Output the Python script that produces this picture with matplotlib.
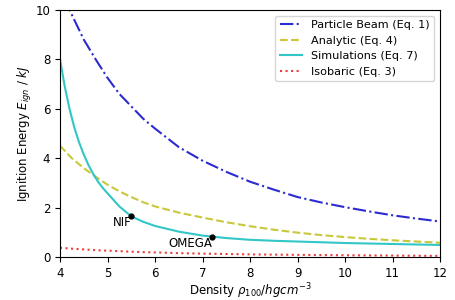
import matplotlib
matplotlib.use("Agg")
import matplotlib.pyplot as plt

# --- data ---
rho = [4.0, 4.25, 4.5, 4.75, 5.0, 5.25, 5.5, 5.75, 6.0, 6.5, 7.0, 7.5, 8.0,
       8.5, 9.0, 9.5, 10.0, 10.5, 11.0, 11.5, 12.0]

particle_beam = [10.9, 9.8, 8.8, 8.0, 7.25, 6.6, 6.1, 5.6, 5.2, 4.45, 3.9,
                 3.45, 3.05, 2.73, 2.43, 2.21, 2.02, 1.85, 1.69, 1.56, 1.44]
analytic = [4.5, 4.0, 3.6, 3.25, 2.93, 2.66, 2.43, 2.22, 2.05, 1.8, 1.6,
            1.41, 1.25, 1.11, 0.99, 0.89, 0.81, 0.74, 0.68, 0.63, 0.58]
isobaric = [0.38, 0.34, 0.31, 0.28, 0.26, 0.24, 0.22, 0.20, 0.19, 0.16, 0.14,
            0.125, 0.11, 0.10, 0.09, 0.082, 0.075, 0.068, 0.062, 0.056, 0.05]

# simulation curve bends sharply, so it is read at a finer step near rho = 4
rho_sim = [4.0, 4.1, 4.2, 4.3, 4.4, 4.5, 4.6, 4.7, 4.8, 4.9, 5.0, 5.25, 5.5,
           5.75, 6.0, 6.5, 7.0, 7.5, 8.0, 8.5, 9.0, 9.5, 10.0, 10.5, 11.0,
           11.5, 12.0]
simulations = [8.0, 6.9, 6.0, 5.25, 4.65, 4.15, 3.72, 3.36, 3.05, 2.8, 2.58,
               2.05, 1.65, 1.43, 1.26, 1.03, 0.87, 0.77, 0.70, 0.66, 0.63,
               0.60, 0.57, 0.55, 0.53, 0.51, 0.49]

facilities = ["NIF", "OMEGA"]
fac_rho = [5.5, 7.2]
fac_energy = [1.66, 0.82]

fig = plt.figure(figsize=(4.56, 3.0), dpi=100)
ax = fig.add_axes([0.1316, 0.143, 0.8334, 0.824])

ax.plot(rho, particle_beam, '-.', color='#2b2bd0', linewidth=1.5,
        label='Particle Beam (Eq. 1)')
ax.plot(rho, analytic, '--', color='#c8c83a', linewidth=1.5,
        label='Analytic (Eq. 4)')
ax.plot(rho_sim, simulations, '-', color='#33c6c6', linewidth=1.5,
        label='Simulations (Eq. 7)')
ax.plot(rho, isobaric, ':', color='#f03c3c', linewidth=1.5,
        label='Isobaric (Eq. 3)')

ax.plot(fac_rho, fac_energy, 'ko', markersize=3.5)
for name, x, y in zip(facilities, fac_rho, fac_energy):
    ax.text(x, y, name, ha='right', va='top', fontsize=8.5)

ax.set_xlim(4, 12)
ax.set_ylim(0, 10)
ax.set_xlabel(r'Density $\rho_{100}/hgcm^{-3}$', fontsize=8.5, labelpad=1)
ax.set_ylabel(r'Ignition Energy $E_{ign}$ / $kJ$', fontsize=8.5, labelpad=1)
ax.tick_params(labelsize=8.5)
ax.legend(loc='upper right', fontsize=8.1)

fig.savefig('out.png', dpi=100)
